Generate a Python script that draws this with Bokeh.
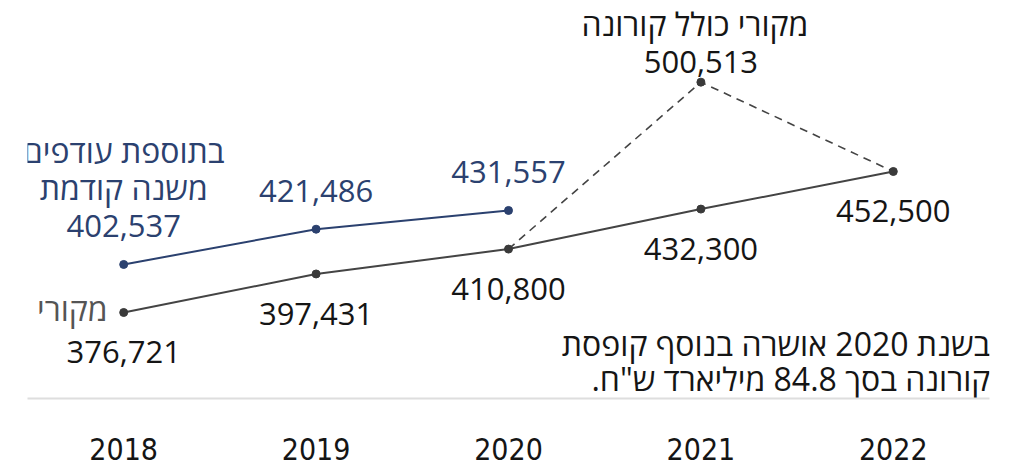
from bokeh.plotting import figure
from bokeh.models import Range1d, FactorRange
from bokeh.core.properties import value
from bokeh.embed import file_html
from bokeh.resources import INLINE

# ---- data ----
years = ["2018", "2019", "2020", "2021", "2022"]
base_vals = [376721, 397431, 410800, 432300, 452500]
surplus_years = ["2018", "2019", "2020"]
surplus_vals = [402537, 421486, 431557]
corona_years = ["2020", "2021", "2022"]
corona_vals = [410800, 500513, 452500]

surplus_name = ["בתוספת עודפים", "משנה קודמת"]
base_name = "מקורי"
corona_name = "מקורי כולל קורונה"
note_lines = ["בשנת 2020 אושרה בנוסף קופסת", "קורונה בסך 84.8 מיליארד ש\"ח.\u200f"]

BLUE = "#2b416f"
GRAY = "#444444"
TXT = "#151515"
FONT = "Open Sans"
FS = "31px"
HFS = "32px"
DY = -11  # baseline correction

y0, y1 = 330500, 540100
p = figure(x_range=FactorRange(*years, range_padding=0), y_range=Range1d(y0, y1),
           width=1007, height=466, output_backend="svg", toolbar_location=None,
           min_border_left=27, min_border_right=18, min_border_top=8, min_border_bottom=68)
p.outline_line_color = None
p.grid.visible = False
p.yaxis.visible = False
p.background_fill_color = "white"
p.border_fill_color = "white"

xa = p.xaxis[0]
xa.axis_line_color = "#dedede"
xa.axis_line_width = 2
xa.major_tick_line_color = None
xa.minor_tick_line_color = None
xa.major_label_standoff = 33
xa.major_label_text_font = "'Liberation Sans Narrow', 'DejaVu Sans Condensed', sans-serif"
xa.major_label_text_font_size = "30px"
xa.major_label_text_color = TXT

# lines
p.line(corona_years, corona_vals, line_color=GRAY, line_width=1.6, line_dash="8 6")
p.line(years, base_vals, line_color=GRAY, line_width=2)
p.line(surplus_years, surplus_vals, line_color=BLUE, line_width=2)
p.scatter(years, base_vals, size=8, color="#3a3a3a")
p.scatter(["2021"], [corona_vals[1]], size=8, color="#3a3a3a")
p.scatter(surplus_years, surplus_vals, size=8, color=BLUE)

def fmt(v):
    return f"{v:,}"

tkw = dict(text_font=value(FONT), text_font_size=FS, text_align="center", text_baseline="alphabetic")
hkw = dict(text_font=value(FONT), text_font_size=HFS, text_align="center", text_baseline="alphabetic")

# value labels
p.text(surplus_years, surplus_vals, text=[fmt(v) for v in surplus_vals], text_color=BLUE, y_offset=-27 + DY, **tkw)
p.text(years, base_vals, text=[fmt(v) for v in base_vals], text_color=TXT, y_offset=51 + DY, **tkw)
p.text(["2021"], [corona_vals[1]], text=[fmt(corona_vals[1])], text_color=TXT, y_offset=-9 + DY, **tkw)

# series names
p.text(["2018"], [surplus_vals[0]], text=[surplus_name[0]], text_color=BLUE, y_offset=-103 + DY, **hkw)
p.text(["2018"], [surplus_vals[0]], text=[surplus_name[1]], text_color=BLUE, y_offset=-66 + DY, **hkw)
p.text(["2021"], [corona_vals[1]], text=[corona_name], text_color=TXT, y_offset=-48 + DY, x_offset=-6, **hkw)
p.text(["2018"], [base_vals[0]], text=[base_name], text_color="#555555", x_offset=-16, y_offset=7 + DY,
       text_font=value(FONT), text_font_size=HFS, text_align="right", text_baseline="alphabetic")

# note
nk = dict(text_font=value(FONT), text_font_size=HFS, text_align="right", text_baseline="alphabetic", text_color=TXT)
p.text(["2022"], [y0], text=[note_lines[0]], x_offset=97, y_offset=-44 + DY, **nk)
p.text(["2022"], [y0], text=[note_lines[1]], x_offset=97, y_offset=-9 + DY, **nk)

open("out.html", "w").write(file_html(p, INLINE))
